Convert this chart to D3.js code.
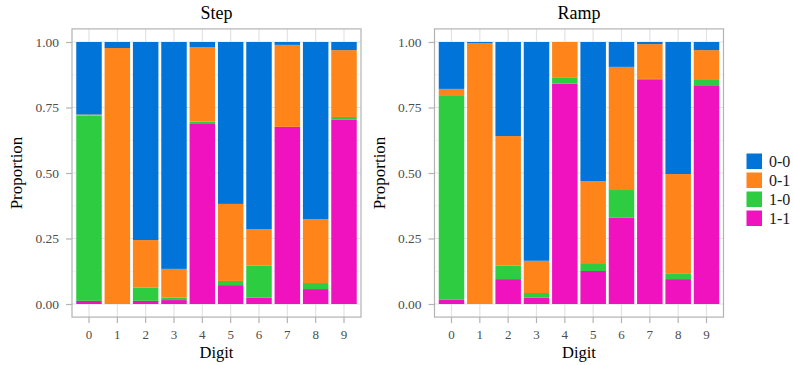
<!DOCTYPE html>
<html lang="en">
  <head>
    <meta charset="utf-8">
    <title>Step / Ramp</title>
    <script src="https://d3js.org/d3.v7.min.js"></script>
    <style>
      body { margin: 0; background: #fff; }
      svg text { font-family: "Liberation Serif", "DejaVu Serif", serif; }
    </style>
  </head>
  <body>
    <div id="chart"></div>
    <script>
      // categories and series
      var digits = ["0", "1", "2", "3", "4", "5", "6", "7", "8", "9"];
      var keys = ["1-1", "1-0", "0-1", "0-0"];           // stacking order, bottom to top
      var legendKeys = ["0-0", "0-1", "1-0", "1-1"];
      var yTicks = [0, 0.25, 0.5, 0.75, 1];

      // proportions, one array per outcome
      var step11 = [0.012, 0.000, 0.012, 0.015, 0.687, 0.072, 0.024, 0.676, 0.057, 0.703];
      var step10 = [0.707, 0.000, 0.050, 0.009, 0.009, 0.016, 0.122, 0.000, 0.023, 0.011];
      var step01 = [0.004, 0.977, 0.182, 0.110, 0.285, 0.294, 0.140, 0.313, 0.244, 0.255];
      var step00 = [0.277, 0.023, 0.756, 0.866, 0.019, 0.618, 0.714, 0.011, 0.676, 0.031];

      var ramp11 = [0.016, 0.000, 0.095, 0.024, 0.841, 0.126, 0.329, 0.855, 0.095, 0.832];
      var ramp10 = [0.778, 0.000, 0.051, 0.018, 0.022, 0.030, 0.106, 0.004, 0.020, 0.023];
      var ramp01 = [0.027, 0.995, 0.495, 0.123, 0.137, 0.313, 0.470, 0.133, 0.381, 0.114];
      var ramp00 = [0.179, 0.005, 0.359, 0.835, 0.000, 0.531, 0.095, 0.008, 0.504, 0.031];

      var colours = d3.scaleOrdinal()
        .domain(["0-0", "0-1", "1-0", "1-1"])
        .range(["#0074D9", "#FF851B", "#2ECC40", "#F012BE"]);

      var serif = "'Liberation Serif', 'DejaVu Serif', serif";

      function toRows(v11, v10, v01, v00) {
        return digits.map(function(d, i) {
          return { digit: d, "1-1": v11[i], "1-0": v10[i], "0-1": v01[i], "0-0": v00[i] };
        });
      }

      var panels = [
        { title: "Step", left: 72, rows: toRows(step11, step10, step01, step00) },
        { title: "Ramp", left: 434.5, rows: toRows(ramp11, ramp10, ramp01, ramp00) }
      ];

      var W = 793, H = 365;
      var panelW = 289;

      var svg = d3.select("#chart")
        .append("svg")
          .attr("width", W)
          .attr("height", H);

      // y scale shared by both panels (ggplot-style 5% expansion)
      var y = d3.scaleLinear().domain([0, 1]).range([304, 42]);
      var panelTop = y(1.05), panelBottom = y(-0.05);

      var stack = d3.stack().keys(keys);

      panels.forEach(function(p) {
        var x = d3.scaleBand()
          .domain(digits)
          .range([p.left, p.left + panelW])
          .paddingInner(0.1)
          .paddingOuter(0.15);

        var g = svg.append("g");

        // panel background
        g.append("rect")
          .attr("x", p.left).attr("y", panelTop)
          .attr("width", panelW).attr("height", panelBottom - panelTop)
          .attr("fill", "#fff");

        // minor grid
        var minor = [0.125, 0.375, 0.625, 0.875];
        g.selectAll(".minor").data(minor).enter().append("line")
          .attr("x1", p.left).attr("x2", p.left + panelW)
          .attr("y1", function(d) { return y(d); })
          .attr("y2", function(d) { return y(d); })
          .attr("stroke", "#f0f0f0").attr("stroke-width", 1);

        // major grid
        g.selectAll(".hmajor").data(yTicks).enter().append("line")
          .attr("x1", p.left).attr("x2", p.left + panelW)
          .attr("y1", function(d) { return y(d); })
          .attr("y2", function(d) { return y(d); })
          .attr("stroke", "#e3e3e3").attr("stroke-width", 1.2);
        g.selectAll(".vmajor").data(digits).enter().append("line")
          .attr("x1", function(d) { return x(d) + x.bandwidth() / 2; })
          .attr("x2", function(d) { return x(d) + x.bandwidth() / 2; })
          .attr("y1", panelTop).attr("y2", panelBottom)
          .attr("stroke", "#e3e3e3").attr("stroke-width", 1.2);

        // stacked bars
        var series = stack(p.rows);
        g.selectAll(".layer").data(series).enter().append("g")
          .attr("fill", function(s) { return colours(s.key); })
          .selectAll("rect")
          .data(function(s) { return s; })
          .enter().append("rect")
            .attr("x", function(d) { return x(d.data.digit); })
            .attr("y", function(d) { return y(d[1]); })
            .attr("width", x.bandwidth())
            .attr("height", function(d) { return Math.max(0, y(d[0]) - y(d[1])); });

        // panel border
        g.append("rect")
          .attr("x", p.left).attr("y", panelTop)
          .attr("width", panelW).attr("height", panelBottom - panelTop)
          .attr("fill", "none")
          .attr("stroke", "#b3b3b3").attr("stroke-width", 1.2);

        // y axis
        var yAxis = d3.axisLeft(y)
          .tickValues(yTicks)
          .tickFormat(d3.format(".2f"))
          .tickSize(6)
          .tickPadding(7);
        var ya = g.append("g")
          .attr("transform", "translate(" + p.left + ",0)")
          .call(yAxis)
          .attr("font-family", serif);
        ya.select(".domain").remove();
        ya.selectAll(".tick line").attr("stroke", "#b3b3b3").attr("stroke-width", 1.2);
        ya.selectAll(".tick text")
          .attr("fill", "#4d4d4d")
          .style("font-size", "13.5px");

        // x axis
        var xAxis = d3.axisBottom(x).tickSize(6).tickPadding(7);
        var xa = g.append("g")
          .attr("transform", "translate(0," + panelBottom + ")")
          .call(xAxis)
          .attr("font-family", serif);
        xa.select(".domain").remove();
        xa.selectAll(".tick line").attr("stroke", "#b3b3b3").attr("stroke-width", 1.2);
        xa.selectAll(".tick text")
          .attr("fill", "#4d4d4d")
          .style("font-size", "13px");

        // titles
        g.append("text")
          .attr("x", p.left + panelW / 2).attr("y", 19)
          .attr("text-anchor", "middle")
          .style("font-size", "18px")
          .attr("fill", "#000")
          .text(p.title);

        g.append("text")
          .attr("x", p.left + panelW / 2).attr("y", 358)
          .attr("text-anchor", "middle")
          .style("font-size", "16.5px")
          .attr("fill", "#000")
          .text("Digit");

        g.append("text")
          .attr("transform", "translate(" + (p.left - 50) + "," + ((panelTop + panelBottom) / 2) + ") rotate(-90)")
          .attr("text-anchor", "middle")
          .style("font-size", "17px")
          .attr("fill", "#000")
          .text("Proportion");
      });

      // legend
      var legend = svg.append("g").attr("transform", "translate(746.5,153.5)");
      var item = legend.selectAll(".item").data(legendKeys).enter().append("g")
        .attr("transform", function(d, i) { return "translate(0," + (i * 19) + ")"; });
      item.append("rect")
        .attr("width", 15.5).attr("height", 15.5)
        .attr("fill", function(d) { return colours(d); });
      item.append("text")
        .attr("x", 22.5).attr("y", 8)
        .attr("dominant-baseline", "central")
        .style("font-size", "16px")
        .attr("fill", "#1a1a1a")
        .text(function(d) { return d; });
    </script>
  </body>
</html>
